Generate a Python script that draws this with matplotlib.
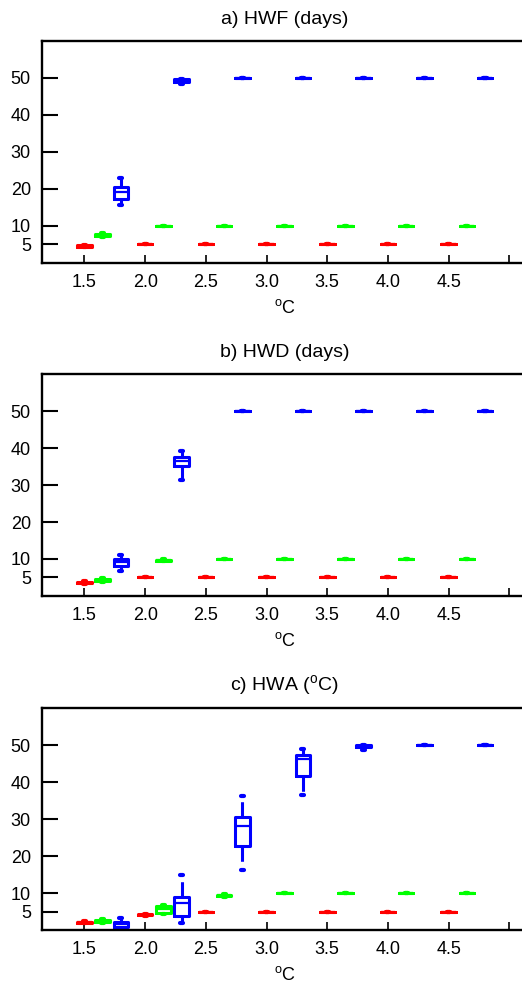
import matplotlib
matplotlib.use("Agg")
import matplotlib.pyplot as plt

plt.rcParams['font.family'] = ['Liberation Sans', 'DejaVu Sans']
plt.rcParams['mathtext.fontset'] = 'custom'
plt.rcParams['mathtext.rm'] = 'Liberation Sans'

# warming levels and the three series (offset within each level)
levels = [1.5, 2.0, 2.5, 3.0, 3.5, 4.0, 4.5]
colors = ['red', '#00ff00', 'blue']
offsets = [0.0, 0.15, 0.3]

# each entry: (whisker low, q1, median, q3, whisker high)
hwf_red = [(4.3, 4.4, 4.6, 4.8, 4.9)] + [(5, 5, 5, 5, 5)] * 6
hwf_green = [(7.0, 7.3, 7.6, 7.9, 8.2)] + [(10, 10, 10, 10, 10)] * 6
hwf_blue = [(15.7, 17.3, 19.1, 20.5, 23.0), (48.3, 48.8, 49.3, 49.6, 49.8)] + [(50, 50, 50, 50, 50)] * 5

hwd_red = [(3.2, 3.4, 3.6, 3.8, 4.0)] + [(5, 5, 5, 5, 5)] * 6
hwd_green = [(3.8, 4.0, 4.2, 4.5, 4.8), (9.4, 9.5, 9.7, 9.8, 9.9)] + [(10, 10, 10, 10, 10)] * 5
hwd_blue = [(6.7, 8.1, 9.1, 10.0, 11.2), (31.3, 35.2, 36.5, 37.6, 39.1)] + [(50, 50, 50, 50, 50)] * 5

hwa_red = [(1.8, 2.0, 2.1, 2.2, 2.4), (3.8, 4.0, 4.1, 4.2, 4.4)] + [(5, 5, 5, 5, 5)] * 5
hwa_green = [(2.0, 2.2, 2.5, 2.8, 3.0), (4.3, 4.7, 5.6, 6.4, 6.7),
             (9.0, 9.2, 9.4, 9.6, 9.8)] + [(10, 10, 10, 10, 10)] * 4
hwa_blue = [(0.3, 0.8, 1.5, 2.2, 3.3), (2.0, 3.7, 7.3, 9.0, 14.8), (16.2, 22.7, 28.2, 30.6, 36.2),
            (36.4, 41.6, 46.3, 47.2, 48.9), (48.6, 49.4, 49.8, 50.0, 50.1)] + [(50, 50, 50, 50, 50)] * 2

panels = [
    ("a) HWF (days)", [hwf_red, hwf_green, hwf_blue]),
    ("b) HWD (days)", [hwd_red, hwd_green, hwd_blue]),
    (r"c) HWA ($^{\rm o}$C)", [hwa_red, hwa_green, hwa_blue]),
]
yticks = [5, 10, 20, 30, 40, 50]
xticks = [1.5, 2.0, 2.5, 3.0, 3.5, 4.0, 4.5, 5.0]
xticklabels = ['1.5', '2.0', '2.5', '3.0', '3.5', '4.0', '4.5', '']

fig = plt.figure(figsize=(5.22, 9.83), dpi=100)
bottoms = [0.7325, 0.3937, 0.0539]

for (title, series), b in zip(panels, bottoms):
    ax = fig.add_axes([0.0805, b, 0.93, 0.2258])
    for vals, col, off in zip(series, colors, offsets):
        stats = [dict(whislo=v[0], q1=v[1], med=v[2], q3=v[3], whishi=v[4], fliers=[])
                 for v in vals]
        pos = [lv + off for lv in levels]
        ax.bxp(stats, positions=pos, widths=0.12, capwidths=0.025, showfliers=False,
               manage_ticks=False,
               boxprops=dict(color=col, lw=2.2, solid_capstyle='round', solid_joinstyle='round'),
               medianprops=dict(color=col, lw=1.6),
               whiskerprops=dict(color=col, lw=2.2, linestyle=(0, (5, 2.5))),
               capprops=dict(color=col, lw=3, solid_capstyle='round'))
    ax.set_xlim(1.15, 5.15)
    ax.set_ylim(0, 60)
    ax.set_yticks(yticks)
    ax.set_xticks(xticks)
    ax.set_xticklabels(xticklabels)
    ax.tick_params(axis='y', direction='in', length=11.5, width=1.5, pad=8, labelsize=13)
    ax.tick_params(axis='x', direction='in', length=5.5, width=1.2, pad=8, labelsize=13)
    for s in ['left', 'top', 'bottom', 'right']:
        ax.spines[s].set_linewidth(1.7)
    ax.set_title(title, fontsize=14, pad=12)
    ax.set_xlabel(r"$^{\rm o}$C", fontsize=13, labelpad=6)

fig.savefig("out.png", dpi=100)
